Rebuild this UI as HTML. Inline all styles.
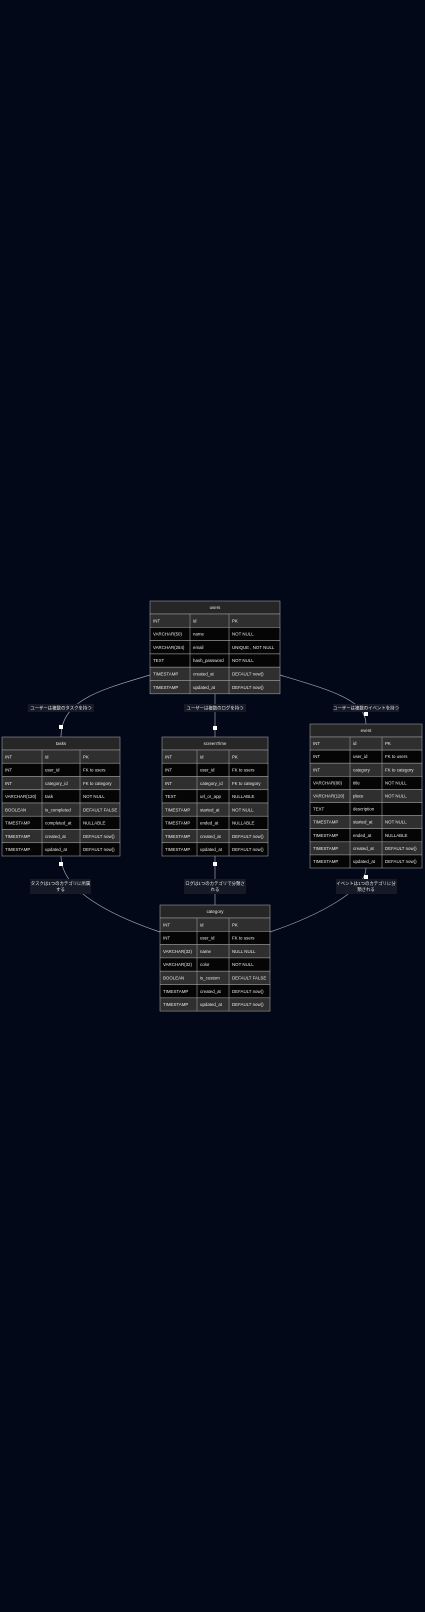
<!DOCTYPE html>
<html><head><meta charset="utf-8"><style>
html,body{margin:0;padding:0;background:#020817;}
svg{display:block}
text{font-family:"Liberation Sans","Noto Sans CJK JP",sans-serif;font-size:4.4px;fill:#e8e8e8}
.h{text-anchor:middle}
.g{fill:#2f2f2f}.b{fill:#050505}.hd{fill:#262626}
.ln{fill:none;stroke:#9aa0aa;stroke-width:0.7}
.lb{fill:#151a26}
</style></head><body>
<svg width="425" height="1612" viewBox="0 0 425 1612" xmlns="http://www.w3.org/2000/svg">
<rect width="425" height="1612" fill="#020817"/>
<path class="ln" d="M150 675 C100 690,61 700,61 737"/>
<path class="ln" d="M215 694 L215 737"/>
<path class="ln" d="M280 675 C330 690,366 700,366 724"/>
<path class="ln" d="M61 856 C61 890,110 915,160 932"/>
<path class="ln" d="M215 856 L215 905"/>
<path class="ln" d="M366 868 C366 890,320 915,270 932"/>
<g fill="#fff">
<rect x="59" y="725" width="4" height="4"/><rect x="213" y="726" width="4" height="4"/><rect x="364" y="712" width="4" height="4"/>
<rect x="59" y="862" width="4" height="4"/><rect x="213" y="862" width="4" height="4"/><rect x="364" y="875" width="4" height="4"/>
</g>
<rect class="lb" x="28" y="704" width="66" height="8"/><text class="h" x="61" y="709.5">ユーザーは複数のタスクを持つ</text>
<rect class="lb" x="184" y="704" width="62" height="8"/><text class="h" x="215" y="709.5">ユーザーは複数のログを持つ</text>
<rect class="lb" x="333" y="704" width="66" height="8"/><text class="h" x="366" y="709.5">ユーザーは複数のイベントを持つ</text>
<rect class="lb" x="30" y="879" width="61" height="15"/><text class="h" x="60.5" y="885">タスクは1つのカテゴリに所属</text><text class="h" x="60.5" y="891">する</text>
<rect class="lb" x="184" y="879" width="62" height="15"/><text class="h" x="215" y="885">ログは1つのカテゴリで分類さ</text><text class="h" x="215" y="891">れる</text>
<rect class="lb" x="336" y="879" width="61" height="15"/><text class="h" x="366" y="885">イベントは1つのカテゴリに分</text><text class="h" x="366" y="891">類される</text>

<g stroke="#999" stroke-width="0.6">
<rect class="hd" x="150" y="601" width="130" height="13"/>
<rect class="g" x="150" y="614" width="130" height="13.3"/>
<rect class="b" x="150" y="627.3" width="130" height="13.3"/>
<rect class="b" x="150" y="640.6" width="130" height="13.3"/>
<rect class="b" x="150" y="653.9" width="130" height="13.3"/>
<rect class="g" x="150" y="667.2" width="130" height="13.3"/>
<rect class="g" x="150" y="680.5" width="130" height="13.3"/>
<line x1="190" y1="614" x2="190" y2="694"/><line x1="229" y1="614" x2="229" y2="694"/>
</g>
<text class="h" x="215" y="609">users</text>
<text x="153" y="622.3">INT</text><text x="193" y="622.3">id</text><text x="232" y="622.3">PK</text>
<text x="153" y="635.6">VARCHAR(50)</text><text x="193" y="635.6">name</text><text x="232" y="635.6">NOT NULL</text>
<text x="153" y="648.9">VARCHAR(254)</text><text x="193" y="648.9">email</text><text x="232" y="648.9">UNIQUE , NOT NULL</text>
<text x="153" y="662.2">TEXT</text><text x="193" y="662.2">hash_password</text><text x="232" y="662.2">NOT NULL</text>
<text x="153" y="675.5">TIMESTAMP</text><text x="193" y="675.5">created_at</text><text x="232" y="675.5">DEFAULT now()</text>
<text x="153" y="688.8">TIMESTAMP</text><text x="193" y="688.8">updated_at</text><text x="232" y="688.8">DEFAULT now()</text>

<g stroke="#999" stroke-width="0.6">
<rect class="hd" x="2" y="737" width="118" height="13"/>
<rect class="g" x="2" y="750" width="118" height="13.25"/>
<rect class="b" x="2" y="763.25" width="118" height="13.25"/>
<rect class="g" x="2" y="776.5" width="118" height="13.25"/>
<rect class="b" x="2" y="789.75" width="118" height="13.25"/>
<rect class="g" x="2" y="803" width="118" height="13.25"/>
<rect class="b" x="2" y="816.25" width="118" height="13.25"/>
<rect class="g" x="2" y="829.5" width="118" height="13.25"/>
<rect class="b" x="2" y="842.75" width="118" height="13.25"/>
<line x1="42" y1="750" x2="42" y2="856"/><line x1="80" y1="750" x2="80" y2="856"/>
</g>
<text class="h" x="61" y="745">tasks</text>
<text x="5" y="758.3">INT</text><text x="45" y="758.3">id</text><text x="83" y="758.3">PK</text>
<text x="5" y="771.5">INT</text><text x="45" y="771.5">user_id</text><text x="83" y="771.5">FK to users</text>
<text x="5" y="784.8">INT</text><text x="45" y="784.8">category_id</text><text x="83" y="784.8">FK to category</text>
<text x="5" y="798">VARCHAR(120)</text><text x="45" y="798">task</text><text x="83" y="798">NOT NULL</text>
<text x="5" y="811.3">BOOLEAN</text><text x="45" y="811.3">is_completed</text><text x="83" y="811.3">DEFAULT FALSE</text>
<text x="5" y="824.5">TIMESTAMP</text><text x="45" y="824.5">completed_at</text><text x="83" y="824.5">NULLABLE</text>
<text x="5" y="837.8">TIMESTAMP</text><text x="45" y="837.8">created_at</text><text x="83" y="837.8">DEFAULT now()</text>
<text x="5" y="851">TIMESTAMP</text><text x="45" y="851">updated_at</text><text x="83" y="851">DEFAULT now()</text>

<g stroke="#999" stroke-width="0.6">
<rect class="hd" x="162" y="737" width="106" height="13"/>
<rect class="g" x="162" y="750" width="106" height="13.25"/>
<rect class="b" x="162" y="763.25" width="106" height="13.25"/>
<rect class="g" x="162" y="776.5" width="106" height="13.25"/>
<rect class="b" x="162" y="789.75" width="106" height="13.25"/>
<rect class="g" x="162" y="803" width="106" height="13.25"/>
<rect class="b" x="162" y="816.25" width="106" height="13.25"/>
<rect class="g" x="162" y="829.5" width="106" height="13.25"/>
<rect class="b" x="162" y="842.75" width="106" height="13.25"/>
<line x1="197" y1="750" x2="197" y2="856"/><line x1="229" y1="750" x2="229" y2="856"/>
</g>
<text class="h" x="215" y="745">screenTime</text>
<text x="165" y="758.3">INT</text><text x="200" y="758.3">id</text><text x="232" y="758.3">PK</text>
<text x="165" y="771.5">INT</text><text x="200" y="771.5">user_id</text><text x="232" y="771.5">FK to users</text>
<text x="165" y="784.8">INT</text><text x="200" y="784.8">category_id</text><text x="232" y="784.8">FK to category</text>
<text x="165" y="798">TEXT</text><text x="200" y="798">url_or_app</text><text x="232" y="798">NULLABLE</text>
<text x="165" y="811.3">TIMESTAMP</text><text x="200" y="811.3">started_at</text><text x="232" y="811.3">NOT NULL</text>
<text x="165" y="824.5">TIMESTAMP</text><text x="200" y="824.5">ended_at</text><text x="232" y="824.5">NULLABLE</text>
<text x="165" y="837.8">TIMESTAMP</text><text x="200" y="837.8">created_at</text><text x="232" y="837.8">DEFAULT now()</text>
<text x="165" y="851">TIMESTAMP</text><text x="200" y="851">updated_at</text><text x="232" y="851">DEFAULT now()</text>

<g stroke="#999" stroke-width="0.6">
<rect class="hd" x="310" y="724" width="112" height="13"/>
<rect class="g" x="310" y="737" width="112" height="13.1"/>
<rect class="b" x="310" y="750.1" width="112" height="13.1"/>
<rect class="g" x="310" y="763.2" width="112" height="13.1"/>
<rect class="b" x="310" y="776.3" width="112" height="13.1"/>
<rect class="g" x="310" y="789.4" width="112" height="13.1"/>
<rect class="b" x="310" y="802.5" width="112" height="13.1"/>
<rect class="g" x="310" y="815.6" width="112" height="13.1"/>
<rect class="b" x="310" y="828.7" width="112" height="13.1"/>
<rect class="g" x="310" y="841.8" width="112" height="13.1"/>
<rect class="b" x="310" y="854.9" width="112" height="13.1"/>
<line x1="350" y1="737" x2="350" y2="868"/><line x1="382" y1="737" x2="382" y2="868"/>
</g>
<text class="h" x="366" y="732">event</text>
<text x="313" y="745.1">INT</text><text x="353" y="745.1">id</text><text x="385" y="745.1">PK</text>
<text x="313" y="758.2">INT</text><text x="353" y="758.2">user_id</text><text x="385" y="758.2">FK to users</text>
<text x="313" y="771.3">INT</text><text x="353" y="771.3">category</text><text x="385" y="771.3">FK to category</text>
<text x="313" y="784.4">VARCHAR(80)</text><text x="353" y="784.4">title</text><text x="385" y="784.4">NOT NULL</text>
<text x="313" y="797.5">VARCHAR(120)</text><text x="353" y="797.5">place</text><text x="385" y="797.5">NOT NULL</text>
<text x="313" y="810.6">TEXT</text><text x="353" y="810.6">description</text>
<text x="313" y="823.7">TIMESTAMP</text><text x="353" y="823.7">started_at</text><text x="385" y="823.7">NOT NULL</text>
<text x="313" y="836.8">TIMESTAMP</text><text x="353" y="836.8">ended_at</text><text x="385" y="836.8">NULLABLE</text>
<text x="313" y="849.9">TIMESTAMP</text><text x="353" y="849.9">created_at</text><text x="385" y="849.9">DEFAULT now()</text>
<text x="313" y="863">TIMESTAMP</text><text x="353" y="863">updated_at</text><text x="385" y="863">DEFAULT now()</text>

<g stroke="#999" stroke-width="0.6">
<rect class="hd" x="160" y="905" width="110" height="13"/>
<rect class="g" x="160" y="918" width="110" height="13.3"/>
<rect class="b" x="160" y="931.3" width="110" height="13.3"/>
<rect class="g" x="160" y="944.6" width="110" height="13.3"/>
<rect class="b" x="160" y="957.9" width="110" height="13.3"/>
<rect class="g" x="160" y="971.2" width="110" height="13.3"/>
<rect class="b" x="160" y="984.5" width="110" height="13.3"/>
<rect class="g" x="160" y="997.8" width="110" height="13.3"/>
<line x1="197" y1="918" x2="197" y2="1011"/><line x1="229" y1="918" x2="229" y2="1011"/>
</g>
<text class="h" x="215" y="913">category</text>
<text x="163" y="926.3">INT</text><text x="200" y="926.3">id</text><text x="232" y="926.3">PK</text>
<text x="163" y="939.6">INT</text><text x="200" y="939.6">user_id</text><text x="232" y="939.6">FK to users</text>
<text x="163" y="952.9">VARCHAR(32)</text><text x="200" y="952.9">name</text><text x="232" y="952.9">NULL NULL</text>
<text x="163" y="966.2">VARCHAR(32)</text><text x="200" y="966.2">color</text><text x="232" y="966.2">NOT NULL</text>
<text x="163" y="979.5">BOOLEAN</text><text x="200" y="979.5">is_custom</text><text x="232" y="979.5">DEFAULT FALSE</text>
<text x="163" y="992.8">TIMESTAMP</text><text x="200" y="992.8">created_at</text><text x="232" y="992.8">DEFAULT now()</text>
<text x="163" y="1006.1">TIMESTAMP</text><text x="200" y="1006.1">updated_at</text><text x="232" y="1006.1">DEFAULT now()</text>
</svg>
</body></html>
